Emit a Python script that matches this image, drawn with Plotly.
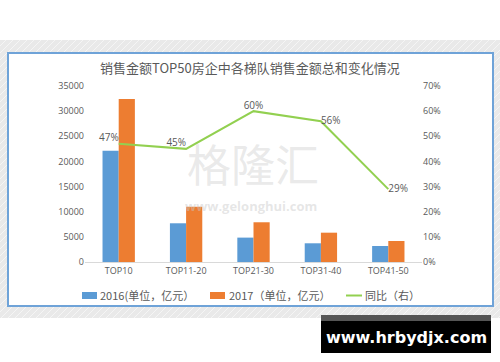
import plotly.graph_objects as go

categories = ["TOP10", "TOP11-20", "TOP21-30", "TOP31-40", "TOP41-50"]
sales_2016 = [22100, 7700, 4850, 3720, 3180]
sales_2017 = [32400, 11000, 7900, 5830, 4180]
yoy = [0.47, 0.45, 0.60, 0.56, 0.29]
yoy_labels = ["47%", "45%", "60%", "56%", "29%"]
yoy_positions = ["top left", "top left", "top center", "middle right", "middle right"]

title_text = "销售金额TOP50房企中各梯队销售金额总和变化情况"
name_2016 = "2016(单位，亿元）"
name_2017 = "2017（单位，亿元）"
name_yoy = "同比（右）"

color_2016 = "#5B9BD5"
color_2017 = "#ED7D31"
color_yoy = "#92D050"

W, H = 500, 362
L, R, T, B = 85, 78, 86, 100
PW = W - L - R
PH = H - T - B


def fx(px):
    return (px - L) / PW


def fy(py):
    return (H - B - py) / PH


font_cjk = "Noto Sans CJK SC, Open Sans, sans-serif"
font_lat = "Open Sans, sans-serif"
grey_txt = "#595959"

fig = go.Figure()
fig.add_trace(go.Bar(x=categories, y=sales_2016, name=name_2016,
                     marker=dict(color=color_2016, line=dict(width=0))))
fig.add_trace(go.Bar(x=categories, y=sales_2017, name=name_2017,
                     marker=dict(color=color_2017, line=dict(width=0))))
fig.add_trace(go.Scatter(x=categories, y=yoy, name=name_yoy, yaxis="y2",
                         mode="lines+text", text=yoy_labels,
                         textposition=yoy_positions,
                         textfont=dict(size=10, color=grey_txt, family=font_lat),
                         line=dict(color=color_yoy, width=2)))

shapes = []
# grey background band
shapes.append(dict(type="rect", xref="paper", yref="paper", x0=fx(0), x1=fx(W),
                   y0=fy(318), y1=fy(40), fillcolor="#e9e9e9", line=dict(width=0),
                   layer="below"))
# faint diagonal stripes
x0 = -300
while x0 < W:
    shapes.append(dict(type="line", xref="paper", yref="paper",
                       x0=fx(x0), y0=fy(318), x1=fx(x0 + 278), y1=fy(40),
                       line=dict(color="rgba(255,255,255,0.55)", width=1),
                       layer="below"))
    x0 += 7
# white card with blue border
shapes.append(dict(type="rect", xref="paper", yref="paper", x0=fx(8), x1=fx(493),
                   y0=fy(306), y1=fy(53), fillcolor="white",
                   line=dict(color="#6fa3d8", width=2), layer="below"))
# legend markers
shapes.append(dict(type="rect", xref="paper", yref="paper", x0=fx(82), x1=fx(97),
                   y0=fy(299), y1=fy(292), fillcolor=color_2016, line=dict(width=0)))
shapes.append(dict(type="rect", xref="paper", yref="paper", x0=fx(210), x1=fx(225),
                   y0=fy(299), y1=fy(292), fillcolor=color_2017, line=dict(width=0)))
shapes.append(dict(type="line", xref="paper", yref="paper", x0=fx(346), x1=fx(362),
                   y0=fy(295.5), y1=fy(295.5), line=dict(color=color_yoy, width=2)))
# black watermark box
shapes.append(dict(type="rect", xref="paper", yref="paper", x0=fx(321), x1=fx(491),
                   y0=fy(321), y1=fy(315), fillcolor="#555555", line=dict(width=0)))
shapes.append(dict(type="rect", xref="paper", yref="paper", x0=fx(321), x1=fx(491),
                   y0=fy(353), y1=fy(321), fillcolor="#000000", line=dict(width=0)))

annotations = [
    dict(text=title_text, xref="paper", yref="paper", x=fx(250), y=fy(67),
         showarrow=False, font=dict(size=13, color=grey_txt, family=font_cjk),
         xanchor="center", yanchor="middle"),
    dict(text="格隆汇", xref="paper", yref="paper", x=fx(253), y=fy(163),
         showarrow=False, font=dict(size=44, color="rgba(200,200,200,0.4)", family=font_cjk),
         xanchor="center", yanchor="middle"),
    dict(text="<b>www.gelonghui.com</b>", xref="paper", yref="paper", x=fx(251), y=fy(206),
         showarrow=False, font=dict(size=13, color="rgba(200,200,200,0.45)", family=font_lat),
         xanchor="center", yanchor="middle"),
    dict(text="<b>www.hrbydjx.com</b>", xref="paper", yref="paper", x=fx(406), y=fy(337),
         showarrow=False, font=dict(size=16, color="white", family="DejaVu Sans, sans-serif"),
         xanchor="center", yanchor="middle"),
    # legend texts
    dict(text=name_2016, xref="paper", yref="paper", x=fx(98), y=fy(295),
         showarrow=False, font=dict(size=11, color=grey_txt, family=font_cjk),
         xanchor="left", yanchor="middle"),
    dict(text=name_2017, xref="paper", yref="paper", x=fx(227), y=fy(295),
         showarrow=False, font=dict(size=11, color=grey_txt, family=font_cjk),
         xanchor="left", yanchor="middle"),
    dict(text=name_yoy, xref="paper", yref="paper", x=fx(363), y=fy(295),
         showarrow=False, font=dict(size=11, color=grey_txt, family=font_cjk),
         xanchor="left", yanchor="middle"),
]

fig.update_layout(
    width=W, height=H,
    margin=dict(l=L, r=R, t=T, b=B, pad=0),
    paper_bgcolor="white", plot_bgcolor="rgba(0,0,0,0)",
    barmode="group", bargap=0.52, bargroupgap=0,
    font=dict(family=font_cjk, size=10, color=grey_txt),
    xaxis=dict(showgrid=False, showline=True, linecolor="#d9d9d9", linewidth=1,
               ticks="", tickfont=dict(size=9, color=grey_txt, family=font_lat),
               zeroline=False),
    yaxis=dict(range=[0, 35000], dtick=5000, showgrid=False, zeroline=False,
               showline=False, ticks="", tickformat="d",
               tickfont=dict(size=9, color=grey_txt, family=font_lat)),
    yaxis2=dict(range=[0, 0.7], dtick=0.1, tickformat=".0%", overlaying="y",
                side="right", showgrid=False, zeroline=False, showline=False, ticks="",
                tickfont=dict(size=9, color=grey_txt, family=font_lat)),
    shapes=shapes,
    annotations=annotations,
    showlegend=False,
)

fig.write_html("out.html", config={"displayModeBar": False},
               post_script="document.body.style.margin='0px';")
